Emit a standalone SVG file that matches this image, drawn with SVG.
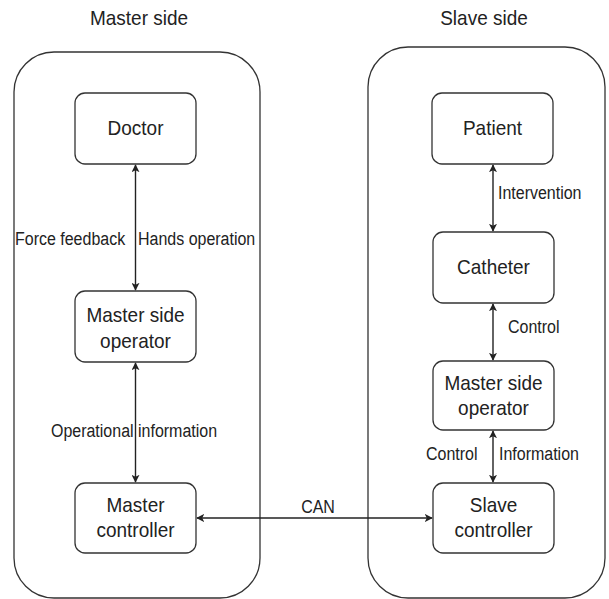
<svg xmlns="http://www.w3.org/2000/svg" width="609" height="599" viewBox="0 0 609 599">
<style>
.c{fill:#fff;stroke:#333;stroke-width:1.3}
.n{fill:#fff;stroke:#333;stroke-width:1.3}
.t{font-family:"Liberation Sans",Arial,sans-serif;font-size:19px;fill:#222;text-anchor:middle}
.l{font-family:"Liberation Sans",Arial,sans-serif;font-size:16px;fill:#222}
.m{text-anchor:middle}
.e{fill:none;stroke:#222;stroke-width:1.4;marker-start:url(#a);marker-end:url(#a)}
</style>
<defs>
<marker id="a" viewBox="0 0 10 10" refX="9" refY="5" markerWidth="8" markerHeight="8" orient="auto-start-reverse" markerUnits="userSpaceOnUse">
<path d="M0,0 L10,5 L0,10 L2.5,5 Z" fill="#222"/>
</marker>
</defs>
<rect width="609" height="599" fill="#fff"/>
<g id="master-side">
<rect class="c" x="14" y="52" width="246" height="546" rx="40"/>
<text class="t" transform="translate(139,25) scale(1,1.1)">Master side</text>
</g>
<g id="slave-side">
<rect class="c" x="368" y="47" width="237" height="551" rx="40"/>
<text class="t" transform="translate(484,25) scale(1,1.1)">Slave side</text>
</g>
<g id="doctor">
<rect class="n" x="75" y="93" width="121" height="71" rx="10"/>
<text class="t" transform="translate(135.5,135) scale(1,1.1)">Doctor</text>
</g>
<g id="master-operator">
<rect class="n" x="75" y="291" width="121" height="71" rx="10"/>
<text class="t" transform="translate(135.5,322) scale(1,1.1)">Master side</text>
<text class="t" transform="translate(135.5,348) scale(1,1.1)">operator</text>
</g>
<g id="master-controller">
<rect class="n" x="75" y="483" width="121" height="70" rx="10"/>
<text class="t" transform="translate(135.5,512) scale(1,1.1)">Master</text>
<text class="t" transform="translate(135.5,537) scale(1,1.1)">controller</text>
</g>
<g id="patient">
<rect class="n" x="432" y="93" width="121" height="71" rx="10"/>
<text class="t" transform="translate(492.5,135) scale(1,1.1)">Patient</text>
</g>
<g id="catheter">
<rect class="n" x="433" y="232" width="121" height="71" rx="10"/>
<text class="t" transform="translate(493.5,274) scale(1,1.1)">Catheter</text>
</g>
<g id="slave-operator">
<rect class="n" x="433" y="361" width="121" height="69" rx="10"/>
<text class="t" transform="translate(493.5,390) scale(1,1.1)">Master side</text>
<text class="t" transform="translate(493.5,415) scale(1,1.1)">operator</text>
</g>
<g id="slave-controller">
<rect class="n" x="433" y="483" width="121" height="70" rx="10"/>
<text class="t" transform="translate(493.5,512) scale(1,1.1)">Slave</text>
<text class="t" transform="translate(493.5,537) scale(1,1.1)">controller</text>
</g>
<g id="connectors">
<line class="e" x1="135.5" y1="165" x2="135.5" y2="290"/>
<line class="e" x1="135.5" y1="363" x2="135.5" y2="482"/>
<line class="e" x1="197" y1="518" x2="432" y2="518"/>
<line class="e" x1="493" y1="165" x2="493" y2="231"/>
<line class="e" x1="493" y1="304" x2="493" y2="360"/>
<line class="e" x1="493" y1="431" x2="493" y2="482"/>
<text class="l" transform="translate(15,245) scale(1,1.1)">Force feedback</text>
<text class="l" transform="translate(138,245) scale(1,1.1)">Hands operation</text>
<text class="l m" transform="translate(134,437) scale(1,1.1)">Operational information</text>
<text class="l m" font-size="18" transform="translate(318,513) scale(1,1.1)">CAN</text>
<text class="l" transform="translate(498,199) scale(1,1.1)">Intervention</text>
<text class="l" transform="translate(508,333) scale(1,1.1)">Control</text>
<text class="l" transform="translate(426,460) scale(1,1.1)">Control</text>
<text class="l" transform="translate(499,460) scale(1,1.1)">Information</text>
</g>
</svg>
